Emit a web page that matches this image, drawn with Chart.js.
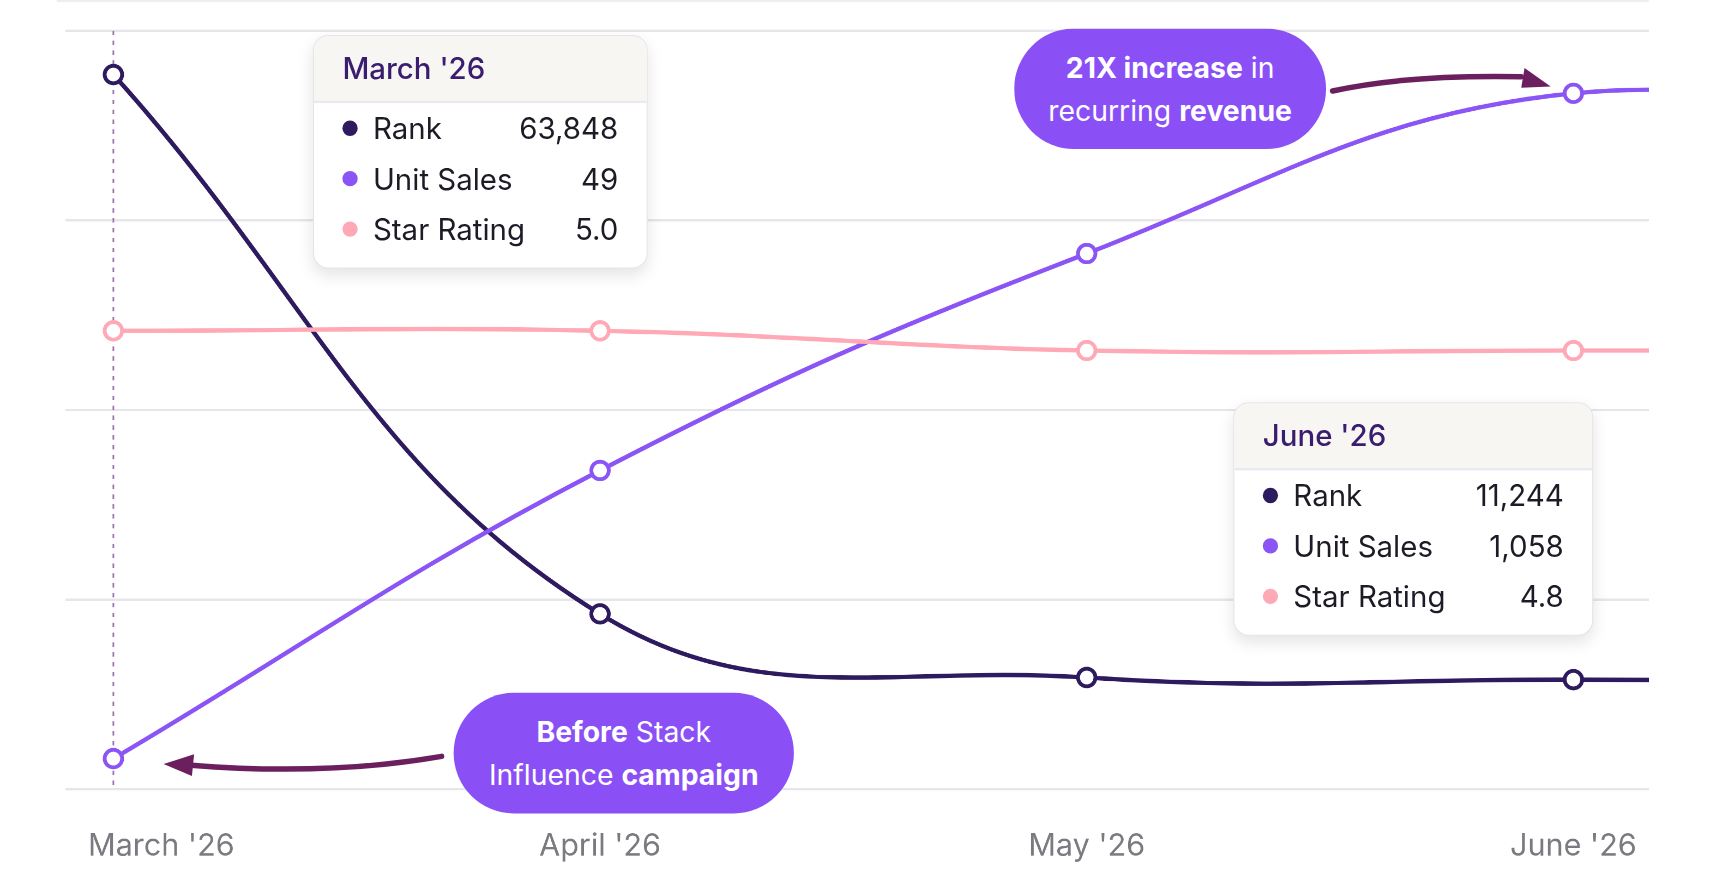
<!DOCTYPE html>
<html>
<head>
<meta charset="utf-8">
<script src="https://cdn.jsdelivr.net/npm/chart.js@4"></script>
<style>
  html, body { margin: 0; padding: 0; background: #fff; overflow: hidden; }
  body { width: 1710px; height: 895px; font-family: Inter, 'Noto Sans', sans-serif; }
  #wrap { position: absolute; left: 0; top: 0; width: 1560px; height: 820px; transform: scale(1.0905, 1.0962); transform-origin: 0 0; }
  #wrap::before { content: ''; position: absolute; left: 52px; right: 48px; top: 0; border-top: 2px solid #eeeef0; }
  #wrap::after { content: ''; position: absolute; left: 52px; right: 48px; top: 818px; border-top: 2px solid #eeeef0; }
  canvas { position: absolute; left: 0; top: 0; }
  .tip { position: absolute; background: #fff; border: 1px solid #e6e4e8; border-radius: 14px; box-shadow: 0 6px 14px rgba(0,0,0,0.10); overflow: hidden; }
  .tip .hd { background: #f7f6f3; color: #3a1d6e; font-size: 27px; font-weight: 500; padding: 13px 26px; border-bottom: 2px solid #ebe9ee; }
  .tip .row { display: flex; align-items: center; font-size: 27px; color: #1c1b26; padding: 0 26px 0 26px; height: 46px; }
  .tip .row:first-of-type { margin-top: 14px; }
  .tip .dot { width: 14px; height: 14px; border-radius: 50%; margin-right: 14px; }
  .tip .lab { flex: 1; }
  .bub { position: absolute; background: #8a50f5; color: #fff; border-radius: 56px; font-size: 26px; text-align: center; line-height: 39px; display: flex; align-items: center; justify-content: center; }
  .bub b { font-weight: 700; }
  svg { position: absolute; left: 0; top: 0; }
</style>
</head>
<body>
<div id="wrap">
  <canvas id="chart" width="1560" height="820"></canvas>
  <div class="tip" style="left:287px;top:32px;width:305px;height:211px">
    <div class="hd">March '26</div>
    <div class="row"><span class="dot" style="background:#2e1a5f"></span><span class="lab">Rank</span><span>63,848</span></div>
    <div class="row"><span class="dot" style="background:#8b55f6"></span><span class="lab">Unit Sales</span><span>49</span></div>
    <div class="row"><span class="dot" style="background:#ffa9b6"></span><span class="lab">Star Rating</span><span>5.0</span></div>
  </div>
  <div class="tip" style="left:1131px;top:367px;width:328px;height:211px">
    <div class="hd">June '26</div>
    <div class="row"><span class="dot" style="background:#2e1a5f"></span><span class="lab">Rank</span><span>11,244</span></div>
    <div class="row"><span class="dot" style="background:#8b55f6"></span><span class="lab">Unit Sales</span><span>1,058</span></div>
    <div class="row"><span class="dot" style="background:#ffa9b6"></span><span class="lab">Star Rating</span><span>4.8</span></div>
  </div>
  <div class="bub" style="left:930px;top:26px;width:286px;height:110px"><div><b>21X increase</b> in<br>recurring <b>revenue</b></div></div>
  <div class="bub" style="left:416px;top:632px;width:312px;height:110px"><div><b>Before</b> Stack<br>Influence <b>campaign</b></div></div>
  <svg width="1560" height="820">
    <path d="M1222 83 Q1290 68 1395 70" stroke="#6b1f5e" stroke-width="5" fill="none" stroke-linecap="round"/>
    <path d="M1398 62 L1422 79 L1395 80 Z" fill="#6b1f5e"/>
    <path d="M405 690 Q300 708 175 698" stroke="#6b1f5e" stroke-width="5" fill="none" stroke-linecap="round"/>
    <path d="M178 688 L150 697 L176 708 Z" fill="#6b1f5e"/>
  </svg>
</div>
<script>
const months = ["March '26", "April '26", "May '26", "June '26"];
const rank = [63848, 16960, 11430, 11244, 11050];
const unitSales = [49, 486, 815, 1058, 960];
const starRating = [5.0, 5.0, 4.8, 4.8, 4.8];

const pts = (arr) => arr.map((v, i) => ({ x: i, y: v }));

const gridAndGuide = {
  id: 'gridAndGuide',
  beforeDatasetsDraw(chart) {
    const { ctx, chartArea: a, scales } = chart;
    ctx.save();
    ctx.strokeStyle = '#e6e6ea';
    ctx.lineWidth = 2;
    for (let i = 0; i <= 4; i++) {
      const y = a.top + (a.bottom - a.top) * i / 4;
      ctx.beginPath(); ctx.moveTo(a.left, y); ctx.lineTo(a.right, y); ctx.stroke();
    }
    const x0 = scales.x.getPixelForValue(0);
    ctx.strokeStyle = '#a070b0';
    ctx.setLineDash([4, 5]);
    ctx.lineWidth = 1.5;
    ctx.beginPath(); ctx.moveTo(x0, a.top); ctx.lineTo(x0, a.bottom); ctx.stroke();
    ctx.restore();
  },
  afterDraw(chart) {
    const { ctx, chartArea: a, scales } = chart;
    ctx.save();
    ctx.fillStyle = '#7a7a80';
    ctx.font = '28px Inter, sans-serif';
    ctx.textAlign = 'center';
    ctx.textBaseline = 'middle';
    months.forEach((m, i) => {
      const off = i === 0 ? 44 : 0;
      ctx.fillText(m, scales.x.getPixelForValue(i) + off, a.bottom + 52);
    });
    ctx.restore();
  }
};

const ds = (label, data, color, axis) => ({
  label, data: pts(data), yAxisID: axis,
  borderColor: color, borderWidth: 4,
  pointBackgroundColor: '#fff', pointBorderColor: color, pointBorderWidth: 3.5, pointRadius: 8,
  tension: 0.4
});

new Chart(document.getElementById('chart'), {
  type: 'line',
  data: {
    datasets: [
      ds('Star Rating', starRating, '#ffa9b6', 'yStar'),
      ds('Unit Sales', unitSales, '#8b55f6', 'yUnits'),
      ds('Rank', rank, '#2e1a5f', 'yRank')
    ]
  },
  options: {
    responsive: false,
    animation: false,
    devicePixelRatio: 2,
    layout: { padding: { left: 60, right: 48, top: 28, bottom: 100 } },
    plugins: { legend: { display: false }, tooltip: { enabled: false } },
    scales: {
      x: { type: 'linear', display: false, min: -0.0985, max: 3.155 },
      yRank: { display: false, min: 1714, max: 67660 },
      yUnits: { display: false, min: 2.5, max: 1153 },
      yStar: { display: false, min: 0.356, max: 8.04 }
    }
  },
  plugins: [gridAndGuide]
});
</script>
</body>
</html>
